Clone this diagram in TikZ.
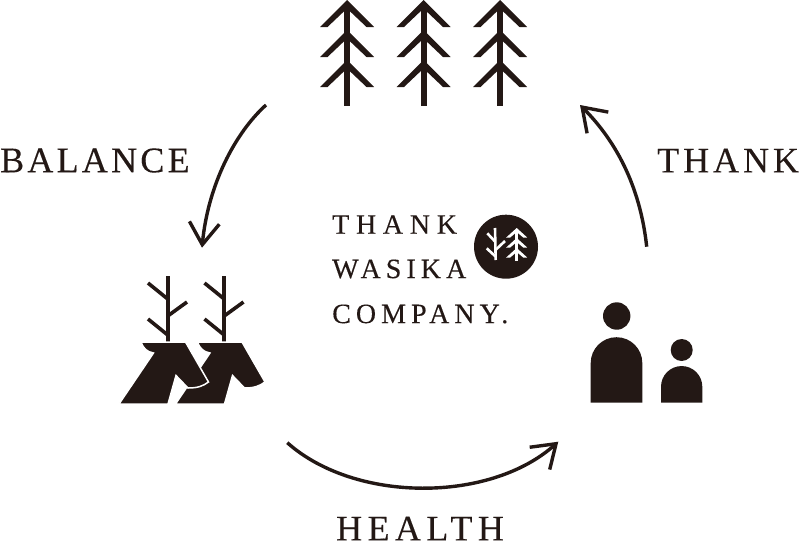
\documentclass[tikz,border=0pt]{standalone}
\usepackage{fontspec}
\setmainfont{Liberation Serif}
\newfontfamily\bigfont[LetterSpace=9,FakeBold=0.25]{Liberation Serif}
\newfontfamily\logofont[LetterSpace=18,FakeBold=0.25]{Liberation Serif}
\usetikzlibrary{arrows.meta}
\definecolor{inkblack}{HTML}{231815}
\tikzset{
  cycletext/.style={right, inner sep=0pt, text=inkblack, font=\bigfont\fontsize{36}{36}\selectfont},
  logotext/.style={right, inner sep=0pt, text=inkblack, font=\logofont\fontsize{28}{28}\selectfont},
  cyclearrow/.style={draw=inkblack, line width=3.4pt, -{Straight Barb[length=22pt,width=30pt,line width=3.4pt]}},
  antler/.style={draw=inkblack, line width=3.6pt},
  smallline/.style={draw=white, line width=2.6pt}
}
\begin{document}
\begin{tikzpicture}[x=1pt, y=-1pt]
\useasboundingbox (0,0) rectangle (800,544);
% trees
\foreach \x in {347,423.5,500} {
  \fill [inkblack] (\x-3,5) rectangle (\x+3,106);
  \foreach \y in {0,30,60}
    \fill [inkblack, shift={(\x,\y)}] (-27,27) -- (0,0) -- (27,27) -- (19.5,27) -- (0,8.5) -- (-19.5,27) -- cycle;
}
% deer
\foreach \x in {56.5,0} {
  \begin{scope}[shift={(\x,0)}]
  \draw [antler] (167.7,276) -- (167.7,344);
  \draw [antler] (148,283) -- (167.7,299);
  \draw [antler] (187,302) -- (167.7,316);
  \draw [antler] (148,319) -- (167.7,335);
  \filldraw [fill=inkblack, draw=white, line width=1.5pt] (141,342) -- (185.5,342) -- (208.5,382)
    .. controls (203,386) and (198,388) .. (188,388) -- (176,375.5) -- (168,404) -- (119,404) -- (153.5,353)
    .. controls (147,352) and (143,348) .. cycle;
  \end{scope}
}
% people
\fill [inkblack] (616.7,316) circle (13.7);
\fill [inkblack] (590.7,402.7) -- (590.7,363) arc [start angle=180, end angle=0, x radius=25.8, y radius=-25.8] -- (642.3,402.7) -- cycle;
\fill [inkblack] (681.7,350) circle (11);
\fill [inkblack] (661,402.7) -- (661,386.7) arc [start angle=180, end angle=0, x radius=20.65, y radius=-20.65] -- (702.3,402.7) -- cycle;
% logo
\fill [inkblack] (506,246.7) circle (32);
\draw [smallline] (495,228) -- (495.7,260);
\draw [smallline] (487.3,233.3) -- (495,241.5);
\draw [smallline] (505,241) -- (495.5,250);
\draw [smallline] (486.7,248.3) -- (495.5,256.5);
\draw [smallline] (516.7,230) -- (516.7,260.7);
\foreach \y in {0,10,20}
  \fill [white, shift={(516.7,228+\y)}] (-10.5,9.5) -- (0,0) -- (10.5,9.5) -- (6.5,9.5) -- (0,4) -- (-6.5,9.5) -- cycle;
% text
\node [logotext] (thanklogo) at (332,224.5) {\addfontfeature{LetterSpace=24}THANK};
\node [logotext] (wasika) at (332,269) {WASIKA};
\node [logotext] (company) at (332,314) {COMPANY.};
\node [cycletext] (balance) at (0,160.5) {BALANCE};
\node [cycletext] (thank) at (657,160.5) {\addfontfeature{LetterSpace=11}THANK};
\node [cycletext] (health) at (336,528.5) {\addfontfeature{LetterSpace=15}HEALTH};
% arrows
\coordinate (balancestart) at (266,105);
\coordinate (balanceend) at (202,247.7);
\coordinate (healthstart) at (287.3,442.7);
\coordinate (healthend) at (558.3,441.7);
\coordinate (thankstart) at (646.7,246.7);
\coordinate (thankend) at (580,105);
\draw [cyclearrow] (balancestart) .. controls (235,133) and (208,185) .. (balanceend);
\draw [cyclearrow] (healthstart) .. controls (355,503) and (490,503) .. (healthend);
\draw [cyclearrow] (thankstart) .. controls (640,185) and (615,140) .. (thankend);
\end{tikzpicture}
\end{document}
